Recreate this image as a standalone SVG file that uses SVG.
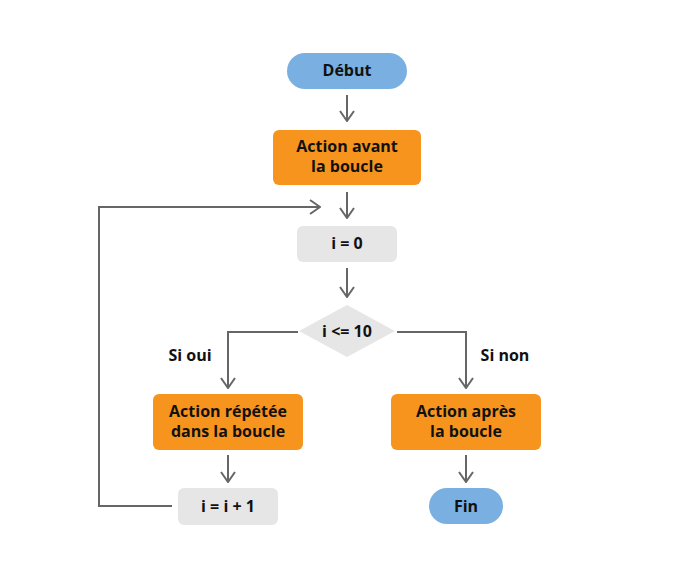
<svg xmlns="http://www.w3.org/2000/svg" width="695" height="580" viewBox="0 0 695 580">
<style>
.t{font-family:"Open Sans","Liberation Sans",sans-serif;font-weight:700;font-size:16px;fill:#111;text-anchor:middle;dominant-baseline:central}
.c{fill:none;stroke:#666;stroke-width:2}
.o{fill:#f7941d}
.g{fill:#e6e6e6}
.b{fill:#7aafe2}
</style>
<defs>
<marker id="a" viewBox="0 0 12 16" refX="11" refY="8" markerWidth="12" markerHeight="16" markerUnits="userSpaceOnUse" orient="auto">
<path d="M1,1 L11,8 L1,15" fill="none" stroke="#666" stroke-width="2"/>
</marker>
</defs>
<rect width="695" height="580" fill="#fff"/>
<g id="connectors">
<path class="c" d="M347,95 V121" marker-end="url(#a)"/>
<path class="c" d="M347,192 V218" marker-end="url(#a)"/>
<path class="c" d="M172,506 H99 V207 H320" marker-end="url(#a)"/>
<path class="c" d="M347,268 V297" marker-end="url(#a)"/>
<path class="c" d="M298,332 H228 V388" marker-end="url(#a)"/>
<path class="c" d="M397,332 H466 V388" marker-end="url(#a)"/>
<path class="c" d="M228,455 V482" marker-end="url(#a)"/>
<path class="c" d="M466,455 V482" marker-end="url(#a)"/>
</g>
<g id="debut"><rect class="b" x="287" y="53" width="120" height="36" rx="18"/><text class="t" x="347" y="69.5">Début</text></g>
<g id="avant"><rect class="o" x="273" y="130" width="148" height="55" rx="6"/><text class="t" x="347" y="146">Action avant</text><text class="t" x="347" y="166">la boucle</text></g>
<g id="init"><rect class="g" x="297" y="226" width="100" height="36" rx="6"/><text class="t" x="347" y="242.5">i = 0</text></g>
<g id="cond"><polygon class="g" points="347,305 395,331 347,357 299,331"/><text class="t" x="347" y="330.5">i &lt;= 10</text></g>
<g id="oui"><text class="t" x="190" y="354.5">Si oui</text></g>
<g id="non"><text class="t" x="505" y="354.5">Si non</text></g>
<g id="repetee"><rect class="o" x="153" y="394" width="150" height="56" rx="6"/><text class="t" x="228" y="410.5">Action répétée</text><text class="t" x="228" y="430.5">dans la boucle</text></g>
<g id="apres"><rect class="o" x="391" y="394" width="150" height="56" rx="6"/><text class="t" x="466" y="410.5">Action après</text><text class="t" x="466" y="430.5">la boucle</text></g>
<g id="incr"><rect class="g" x="178" y="488" width="100" height="37" rx="6"/><text class="t" x="228" y="505.5">i = i + 1</text></g>
<g id="fin"><rect class="b" x="429" y="488" width="74" height="36" rx="18"/><text class="t" x="466" y="505.5">Fin</text></g>
</svg>
